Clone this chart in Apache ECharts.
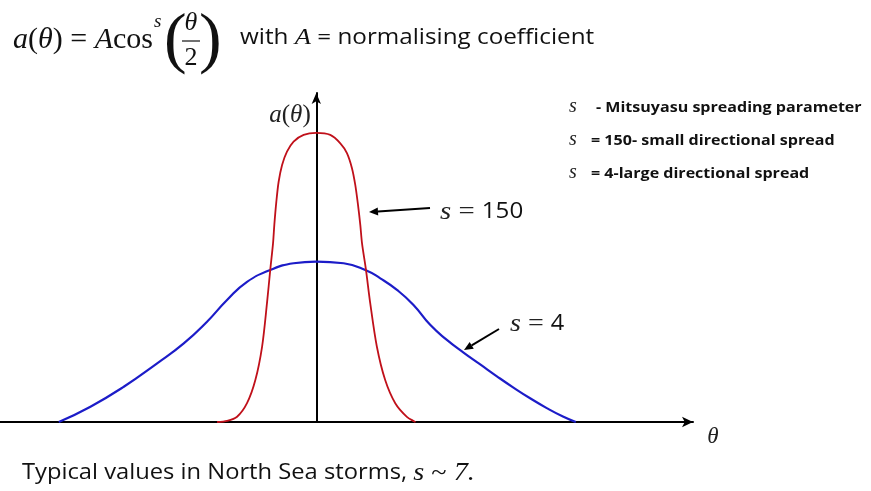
<!DOCTYPE html>
<html>
<head>
<meta charset="utf-8">
<script src="https://cdn.jsdelivr.net/npm/echarts@6/dist/echarts.min.js"></script>
<style>
  html, body { margin: 0; padding: 0; background: #fff; }
  #chart { width: 871px; height: 491px; }
</style>
</head>
<body>
<div id="chart"></div>
<script>
// Directional spreading a(theta) = A cos^s(theta/2), sketched for two values of s.
// theta in degrees, a normalised to the peak of the narrow (s = 150) curve.
const narrowTheta = [-69, -62, -55.1, -48.2, -42.4, -37.7, -34.3, -32.0, -30.1, -29.2, -27.8, -26.2, -23.8, -20.4, -15.8, -8.8, 0,
                     9.7, 16.7, 21.3, 24.8, 27.1, 29.0, 30.6, 31.8, 34.5, 37.5, 42.1, 47.9, 54.9, 63.0, 69];
const narrowA     = [0, 0.004, 0.018, 0.065, 0.145, 0.261, 0.411, 0.528, 0.618, 0.682, 0.762, 0.831, 0.889, 0.935, 0.970, 0.993, 1.0,
                     0.993, 0.964, 0.930, 0.878, 0.820, 0.751, 0.682, 0.618, 0.528, 0.411, 0.261, 0.145, 0.065, 0.018, 0];

const wideTheta = [-179.1, -157.1, -133.9, -110.7, -92.2, -76.0, -62.1, -48.2, -32.0, -15.8, 0,
                   19.0, 34.1, 44.5, 56.1, 67.6, 79.2, 90.8, 102.4, 114.0, 125.6, 137.1, 148.7, 160.3, 171.9, 180.5];
const wideA     = [0, 0.053, 0.122, 0.203, 0.272, 0.347, 0.422, 0.485, 0.526, 0.549, 0.555,
                   0.549, 0.526, 0.497, 0.457, 0.405, 0.336, 0.284, 0.240, 0.199, 0.158, 0.119, 0.082, 0.048, 0.018, 0];

const thetaRange = [-220, 262];
const aRange = [0, 1.138];

const pairs = (xs, ys) => xs.map((x, i) => [x, ys[i]]);

const serif = '"Liberation Serif", "DejaVu Serif", serif';
const sans = '"Open Sans", "Noto Sans", sans-serif';

const chart = echarts.init(document.getElementById('chart'), null, { renderer: 'canvas' });

function arrow(x1, y1, x2, y2) {
  // shaft plus a filled head pointing at (x2, y2)
  const ang = Math.atan2(y2 - y1, x2 - x1);
  const L = 9, W = 4;
  const bx = x2 - L * Math.cos(ang), by = y2 - L * Math.sin(ang);
  const px = -Math.sin(ang) * W, py = Math.cos(ang) * W;
  return [
    { type: 'line', shape: { x1: x1, y1: y1, x2: bx, y2: by }, style: { stroke: '#000', lineWidth: 2 } },
    { type: 'polygon', shape: { points: [[x2, y2], [bx + px, by + py], [bx - px, by - py]] }, style: { fill: '#000' } }
  ];
}

const mathRich = {
  i: { fontFamily: serif, fontStyle: 'italic', fontSize: 30, fill: '#111' },
  r: { fontFamily: serif, fontSize: 30, fill: '#111' }
};

const labelRich = {
  i: { fontFamily: serif, fontStyle: 'italic', fontSize: 25, fill: '#222' },
  r: { fontFamily: serif, fontSize: 25, fill: '#222' },
  t: { fontFamily: sans, fontSize: 21, fill: '#111' }
};

const graphics = [
  // formula
  { type: 'text', x: 13, y: 40, style: {
      text: '{i|a}{r|(}{i|θ}{r|) = }{i|A}{r|cos}', verticalAlign: 'middle', rich: mathRich } },
  { type: 'text', x: 154, y: 22, style: { text: 's', font: 'italic 19px ' + serif, fill: '#111', verticalAlign: 'middle' } },
  { type: 'text', x: 164, y: 42, style: { text: '(', font: '68px ' + serif, fill: '#111', verticalAlign: 'middle' } },
  { type: 'text', x: 191, y: 23, style: { text: 'θ', font: 'italic 26px ' + serif, fill: '#111', align: 'center', verticalAlign: 'middle' } },
  { type: 'line', shape: { x1: 182, y1: 41, x2: 200, y2: 41 }, style: { stroke: '#111', lineWidth: 1.2 } },
  { type: 'text', x: 191, y: 58, style: { text: '2', font: '26px ' + serif, fill: '#111', align: 'center', verticalAlign: 'middle' } },
  { type: 'text', x: 199, y: 42, style: { text: ')', font: '68px ' + serif, fill: '#111', verticalAlign: 'middle' } },
  { type: 'text', x: 240, y: 38, scaleX: 1.155, style: {
      text: '{t|with }{i|A}{t| = normalising coefficient}',
      verticalAlign: 'middle',
      rich: {
        t: { fontFamily: sans, fontSize: 21, fill: '#111' },
        i: { fontFamily: serif, fontStyle: 'italic', fontSize: 23, fill: '#111' }
      } } },

  // parameter notes
  { type: 'text', x: 569, y: 107, style: { text: 's', font: 'italic 20px ' + serif, fill: '#222', verticalAlign: 'middle' } },
  { type: 'text', x: 596, y: 108, scaleX: 1.07, style: { text: '- Mitsuyasu spreading parameter', font: 'bold 15px ' + sans, fill: '#111', verticalAlign: 'middle' } },
  { type: 'text', x: 569, y: 140, style: { text: 's', font: 'italic 20px ' + serif, fill: '#222', verticalAlign: 'middle' } },
  { type: 'text', x: 591, y: 141, scaleX: 1.07, style: { text: '= 150- small directional spread', font: 'bold 15px ' + sans, fill: '#111', verticalAlign: 'middle' } },
  { type: 'text', x: 569, y: 173, style: { text: 's', font: 'italic 20px ' + serif, fill: '#222', verticalAlign: 'middle' } },
  { type: 'text', x: 591, y: 174, scaleX: 1.07, style: { text: '= 4-large directional spread', font: 'bold 15px ' + sans, fill: '#111', verticalAlign: 'middle' } },

  // axis names
  { type: 'text', x: 290, y: 115, style: { text: '{i|a}{r|(}{i|θ}{r|)}', align: 'center', verticalAlign: 'middle',
      rich: {
        i: { fontFamily: serif, fontStyle: 'italic', fontSize: 25, fill: '#222' },
        r: { fontFamily: serif, fontSize: 25, fill: '#222' }
      } } },
  { type: 'text', x: 713, y: 437, style: { text: 'θ', font: 'italic 23px ' + serif, fill: '#222', align: 'center', verticalAlign: 'middle' } },

  // curve labels
  { type: 'text', x: 440, y: 212, scaleX: 1.15, style: { text: '{i|s}{r| = }{t|150}', verticalAlign: 'middle', rich: labelRich } },
  { type: 'text', x: 510, y: 324, scaleX: 1.12, style: { text: '{i|s}{r| = }{t|4}', verticalAlign: 'middle', rich: labelRich } },

  // footnote
  { type: 'text', x: 22, y: 473, scaleX: 1.13, style: {
      text: '{t|Typical values in North Sea storms, }{i|s}{r| ~ }{i|7.}', verticalAlign: 'middle',
      rich: {
        t: { fontFamily: sans, fontSize: 21, fill: '#111' },
        i: { fontFamily: serif, fontStyle: 'italic', fontSize: 25, fill: '#111' },
        r: { fontFamily: serif, fontSize: 25, fill: '#111' }
      } } }
].concat(arrow(430, 208, 369, 212), arrow(499, 329, 464, 350));

const hiddenAxisBits = {
  axisTick: { show: false },
  axisLabel: { show: false },
  splitLine: { show: false }
};

chart.setOption({
  animation: false,
  backgroundColor: '#fff',
  grid: { left: 0, right: 178, top: 93, bottom: 69 },
  xAxis: Object.assign({
    type: 'value', min: thetaRange[0], max: thetaRange[1],
    axisLine: { onZero: true, symbol: ['none', 'arrow'], symbolSize: [8, 11],
                lineStyle: { color: '#000', width: 2 } }
  }, hiddenAxisBits),
  yAxis: Object.assign({
    type: 'value', min: aRange[0], max: aRange[1],
    axisLine: { onZero: true, symbol: ['none', 'arrow'], symbolSize: [7, 11],
                lineStyle: { color: '#000', width: 2 } }
  }, hiddenAxisBits),
  series: [
    {
      name: 's = 4', type: 'line', data: pairs(wideTheta, wideA),
      smooth: 0.5, showSymbol: false,
      lineStyle: { color: '#1c1cc8', width: 2.2 }, z: 3
    },
    {
      name: 's = 150', type: 'line', data: pairs(narrowTheta, narrowA),
      smooth: 0.3, showSymbol: false,
      lineStyle: { color: '#c0101a', width: 1.8 }, z: 4
    }
  ],
  graphic: graphics
});
</script>
</body>
</html>
